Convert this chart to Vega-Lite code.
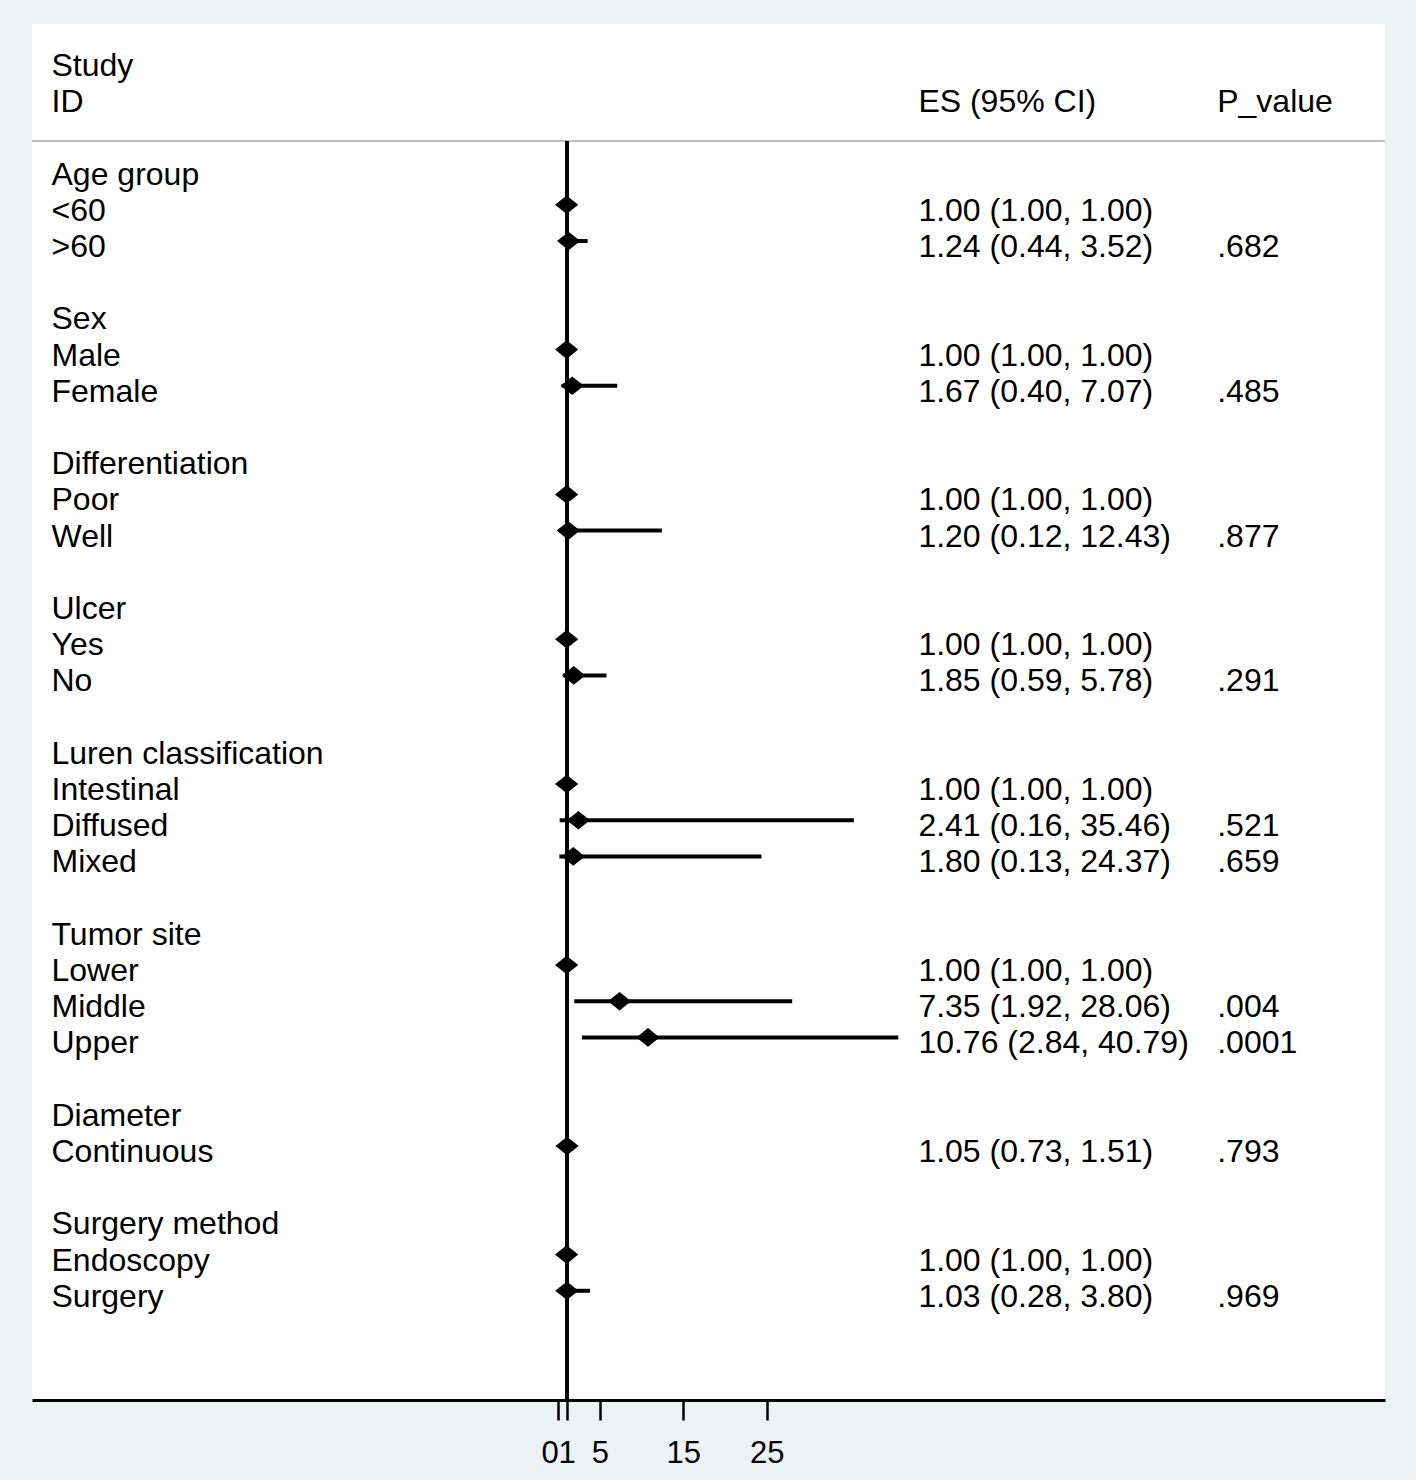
{
  "$schema": "https://vega.github.io/schema/vega-lite/v6.json",
  "width": 1353,
  "height": 1376,
  "autosize": {"type": "none"},
  "padding": {"left": 32, "top": 24, "right": 31, "bottom": 80},
  "background": "#EAF2F3",
  "config": {"view": {"fill": "white", "stroke": null}, "font": "Liberation Sans"},
  "data": {
    "values": [
      {"row": -3, "label": "Study"},
      {"row": -2, "label": "ID", "esText": "ES (95% CI)", "p": "P_value"},
      {"row": 0, "label": "Age group"},
      {"row": 1, "label": "<60", "es": 1.0, "lo": 1.0, "hi": 1.0, "esText": "1.00 (1.00, 1.00)"},
      {"row": 2, "label": ">60", "es": 1.24, "lo": 0.44, "hi": 3.52, "esText": "1.24 (0.44, 3.52)", "p": ".682"},
      {"row": 4, "label": "Sex"},
      {"row": 5, "label": "Male", "es": 1.0, "lo": 1.0, "hi": 1.0, "esText": "1.00 (1.00, 1.00)"},
      {"row": 6, "label": "Female", "es": 1.67, "lo": 0.40, "hi": 7.07, "esText": "1.67 (0.40, 7.07)", "p": ".485"},
      {"row": 8, "label": "Differentiation"},
      {"row": 9, "label": "Poor", "es": 1.0, "lo": 1.0, "hi": 1.0, "esText": "1.00 (1.00, 1.00)"},
      {"row": 10, "label": "Well", "es": 1.20, "lo": 0.12, "hi": 12.43, "esText": "1.20 (0.12, 12.43)", "p": ".877"},
      {"row": 12, "label": "Ulcer"},
      {"row": 13, "label": "Yes", "es": 1.0, "lo": 1.0, "hi": 1.0, "esText": "1.00 (1.00, 1.00)"},
      {"row": 14, "label": "No", "es": 1.85, "lo": 0.59, "hi": 5.78, "esText": "1.85 (0.59, 5.78)", "p": ".291"},
      {"row": 16, "label": "Luren classification"},
      {"row": 17, "label": "Intestinal", "es": 1.0, "lo": 1.0, "hi": 1.0, "esText": "1.00 (1.00, 1.00)"},
      {"row": 18, "label": "Diffused", "es": 2.41, "lo": 0.16, "hi": 35.46, "esText": "2.41 (0.16, 35.46)", "p": ".521"},
      {"row": 19, "label": "Mixed", "es": 1.80, "lo": 0.13, "hi": 24.37, "esText": "1.80 (0.13, 24.37)", "p": ".659"},
      {"row": 21, "label": "Tumor site"},
      {"row": 22, "label": "Lower", "es": 1.0, "lo": 1.0, "hi": 1.0, "esText": "1.00 (1.00, 1.00)"},
      {"row": 23, "label": "Middle", "es": 7.35, "lo": 1.92, "hi": 28.06, "esText": "7.35 (1.92, 28.06)", "p": ".004"},
      {"row": 24, "label": "Upper", "es": 10.76, "lo": 2.84, "hi": 40.79, "esText": "10.76 (2.84, 40.79)", "p": ".0001"},
      {"row": 26, "label": "Diameter"},
      {"row": 27, "label": "Continuous", "es": 1.05, "lo": 0.73, "hi": 1.51, "esText": "1.05 (0.73, 1.51)", "p": ".793"},
      {"row": 29, "label": "Surgery method"},
      {"row": 30, "label": "Endoscopy", "es": 1.0, "lo": 1.0, "hi": 1.0, "esText": "1.00 (1.00, 1.00)"},
      {"row": 31, "label": "Surgery", "es": 1.03, "lo": 0.28, "hi": 3.80, "esText": "1.03 (0.28, 3.80)", "p": ".969"}
    ]
  },
  "layer": [
    {
      "mark": {"type": "rule", "color": "#BEBEBE", "strokeWidth": 2},
      "encoding": {
        "y": {"datum": -0.928, "type": "quantitative", "scale": {"domain": [-4.16, 33.851], "reverse": true, "nice": false, "zero": false}, "axis": null}
      }
    },
    {
      "mark": {"type": "rule", "color": "black", "strokeWidth": 3},
      "encoding": {
        "x": {"datum": 1, "type": "quantitative", "scale": {"domain": [-63.14, 99.18], "nice": false, "zero": false},
          "axis": {"title": null, "values": [0, 1, 5, 15, 25], "grid": false, "domainColor": "black", "domainWidth": 3, "tickColor": "black", "tickWidth": 2.5, "tickSize": 20, "labelFontSize": 31, "labelColor": "black", "labelPadding": 18, "labelFont": "Liberation Sans", "labelOverlap": false, "labelFlush": false, "format": "d", "labelAlign": {"expr": "datum.value == 0 ? 'right' : 'center'"}}},
        "y": {"datum": -0.928, "type": "quantitative", "scale": {"domain": [-4.16, 33.851], "reverse": true, "nice": false, "zero": false}, "axis": null},
        "y2": {"datum": 33.851}
      }
    },
    {
      "transform": [{"filter": "isValid(datum.es)"}],
      "mark": {"type": "rule", "color": "black", "strokeWidth": 4, "yOffset": -6},
      "encoding": {
        "x": {"field": "lo", "type": "quantitative", "scale": {"domain": [-63.14, 99.18], "nice": false, "zero": false},
          "axis": {"title": null, "values": [0, 1, 5, 15, 25], "grid": false, "domainColor": "black", "domainWidth": 3, "tickColor": "black", "tickWidth": 2.5, "tickSize": 20, "labelFontSize": 31, "labelColor": "black", "labelPadding": 18, "labelFont": "Liberation Sans", "labelOverlap": false, "labelFlush": false, "format": "d", "labelAlign": {"expr": "datum.value == 0 ? 'right' : 'center'"}}},
        "x2": {"field": "hi"},
        "y": {"field": "row", "type": "quantitative", "scale": {"domain": [-4.16, 33.851], "reverse": true, "nice": false, "zero": false}, "axis": null}
      }
    },
    {
      "transform": [{"filter": "isValid(datum.es)"}],
      "mark": {"type": "point", "filled": true, "color": "black", "opacity": 1, "shape": "M0,-0.8L1,0L0,0.8L-1,0Z", "size": 540, "yOffset": -6},
      "encoding": {
        "x": {"field": "es", "type": "quantitative", "scale": {"domain": [-63.14, 99.18], "nice": false, "zero": false},
          "axis": {"title": null, "values": [0, 1, 5, 15, 25], "grid": false, "domainColor": "black", "domainWidth": 3, "tickColor": "black", "tickWidth": 2.5, "tickSize": 20, "labelFontSize": 31, "labelColor": "black", "labelPadding": 18, "labelFont": "Liberation Sans", "labelOverlap": false, "labelFlush": false, "format": "d", "labelAlign": {"expr": "datum.value == 0 ? 'right' : 'center'"}}},
        "y": {"field": "row", "type": "quantitative", "scale": {"domain": [-4.16, 33.851], "reverse": true, "nice": false, "zero": false}, "axis": null}
      }
    },
    {
      "transform": [{"filter": "isValid(datum.label)"}],
      "mark": {"type": "text", "align": "left", "baseline": "middle", "fontSize": 32, "color": "black", "font": "Liberation Sans"},
      "encoding": {
        "x": {"datum": -60.8, "type": "quantitative", "scale": {"domain": [-63.14, 99.18], "nice": false, "zero": false},
          "axis": {"title": null, "values": [0, 1, 5, 15, 25], "grid": false, "domainColor": "black", "domainWidth": 3, "tickColor": "black", "tickWidth": 2.5, "tickSize": 20, "labelFontSize": 31, "labelColor": "black", "labelPadding": 18, "labelFont": "Liberation Sans", "labelOverlap": false, "labelFlush": false, "format": "d", "labelAlign": {"expr": "datum.value == 0 ? 'right' : 'center'"}}},
        "y": {"field": "row", "type": "quantitative", "scale": {"domain": [-4.16, 33.851], "reverse": true, "nice": false, "zero": false}, "axis": null},
        "text": {"field": "label"}
      }
    },
    {
      "transform": [{"filter": "isValid(datum.esText)"}],
      "mark": {"type": "text", "align": "left", "baseline": "middle", "fontSize": 32, "color": "black", "font": "Liberation Sans"},
      "encoding": {
        "x": {"datum": 43.2, "type": "quantitative", "scale": {"domain": [-63.14, 99.18], "nice": false, "zero": false},
          "axis": {"title": null, "values": [0, 1, 5, 15, 25], "grid": false, "domainColor": "black", "domainWidth": 3, "tickColor": "black", "tickWidth": 2.5, "tickSize": 20, "labelFontSize": 31, "labelColor": "black", "labelPadding": 18, "labelFont": "Liberation Sans", "labelOverlap": false, "labelFlush": false, "format": "d", "labelAlign": {"expr": "datum.value == 0 ? 'right' : 'center'"}}},
        "y": {"field": "row", "type": "quantitative", "scale": {"domain": [-4.16, 33.851], "reverse": true, "nice": false, "zero": false}, "axis": null},
        "text": {"field": "esText"}
      }
    },
    {
      "transform": [{"filter": "isValid(datum.p)"}],
      "mark": {"type": "text", "align": "left", "baseline": "middle", "fontSize": 32, "color": "black", "font": "Liberation Sans"},
      "encoding": {
        "x": {"datum": 79.05, "type": "quantitative", "scale": {"domain": [-63.14, 99.18], "nice": false, "zero": false},
          "axis": {"title": null, "values": [0, 1, 5, 15, 25], "grid": false, "domainColor": "black", "domainWidth": 3, "tickColor": "black", "tickWidth": 2.5, "tickSize": 20, "labelFontSize": 31, "labelColor": "black", "labelPadding": 18, "labelFont": "Liberation Sans", "labelOverlap": false, "labelFlush": false, "format": "d", "labelAlign": {"expr": "datum.value == 0 ? 'right' : 'center'"}}},
        "y": {"field": "row", "type": "quantitative", "scale": {"domain": [-4.16, 33.851], "reverse": true, "nice": false, "zero": false}, "axis": null},
        "text": {"field": "p"}
      }
    }
  ]
}
